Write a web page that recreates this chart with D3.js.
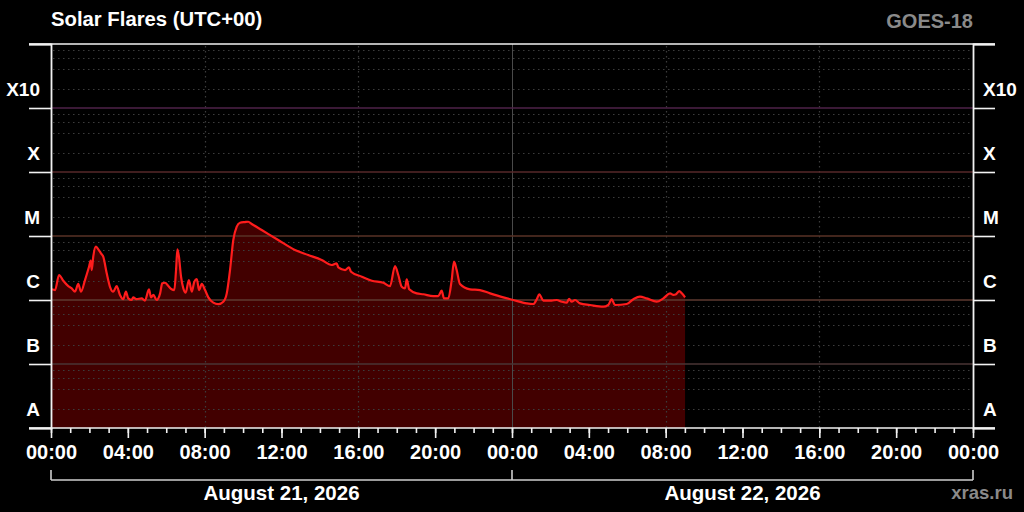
<!DOCTYPE html>
<html><head><meta charset="utf-8">
<script src="https://cdn.jsdelivr.net/npm/d3@7"></script>
<style>
html,body{margin:0;padding:0;background:#000;}
svg{display:block;font-family:"Liberation Sans",Arial,sans-serif;font-weight:bold;}
</style></head>
<body><svg id="c" width="1024" height="512"></svg>
<script>
// ---- data ----
const title = "Solar Flares (UTC+00)";
const satellite = "GOES-18";
const credit = "xras.ru";
const dayLabels = ["August 21, 2026", "August 22, 2026"];
const classLabels = ["A", "B", "C", "M", "X", "X10"];
const classBounds = [1e-8, 1e-7, 1e-6, 1e-5, 1e-4, 1e-3];
const classLineColors = ["#000", "#4a3434", "#5e3a30", "#583226", "#57282a", "#4e2248"];
// hours since 2026-08-21 00:00 UTC
const hours = [0.04,0.21,0.42,0.64,0.90,1.08,1.25,1.42,1.56,1.77,1.98,2.07,2.12,2.20,2.33,2.46,2.60,2.72,2.90,3.07,3.24,3.42,3.59,3.76,3.90,4.02,4.20,4.28,4.46,4.72,4.89,5.10,5.21,5.33,5.50,5.68,5.79,5.94,6.11,6.28,6.42,6.51,6.58,6.66,6.77,6.89,7.01,7.18,7.33,7.46,7.59,7.71,7.85,8.02,8.19,8.45,8.71,8.97,9.15,9.32,9.49,9.67,9.84,10.10,10.27,10.45,10.97,11.83,12.70,13.39,14.09,14.61,14.87,14.96,15.31,15.51,15.62,16.18,16.70,17.30,17.65,17.91,18.08,18.26,18.43,18.52,18.65,19.04,19.38,19.90,20.16,20.34,20.46,20.68,20.86,20.98,21.12,21.29,21.81,22.33,22.86,23.55,24.07,24.77,25.11,25.29,25.42,25.63,26.06,26.33,26.59,26.85,26.97,27.11,27.28,27.54,28.06,28.75,29.01,29.19,29.36,29.97,30.32,30.66,31.01,31.53,31.88,32.23,32.40,32.54,32.71,32.84,33.01];
// X-ray flux, W/m^2
const flux = [1.47e-6,1.43e-6,2.46e-6,2.00e-6,1.65e-6,1.52e-6,1.35e-6,1.78e-6,1.35e-6,2.05e-6,3.31e-6,4.11e-6,2.94e-6,4.75e-6,6.81e-6,6.19e-6,5.37e-6,4.75e-6,2.61e-6,1.61e-6,1.35e-6,1.65e-6,1.20e-6,1.03e-6,1.35e-6,1.06e-6,1.00e-6,1.10e-6,1.03e-6,1.06e-6,9.8e-7,1.47e-6,1.10e-6,1.20e-6,1.00e-6,1.27e-6,1.82e-6,1.86e-6,1.65e-6,1.47e-6,1.43e-6,2.94e-6,6.19e-6,4.75e-6,2.31e-6,1.52e-6,1.30e-6,2.05e-6,1.35e-6,1.93e-6,2.13e-6,1.43e-6,1.78e-6,1.43e-6,1.10e-6,9.1e-7,8.6e-7,9.4e-7,1.27e-6,2.94e-6,8.66e-6,1.40e-5,1.61e-5,1.65e-5,1.67e-5,1.54e-5,1.24e-5,8.66e-6,6.04e-6,5.05e-6,4.22e-6,3.52e-6,3.74e-6,3.24e-6,2.94e-6,3.24e-6,2.77e-6,2.31e-6,2.00e-6,1.86e-6,1.65e-6,3.40e-6,2.46e-6,1.61e-6,1.52e-6,2.10e-6,1.47e-6,1.27e-6,1.23e-6,1.15e-6,1.15e-6,1.40e-6,1.06e-6,1.06e-6,2.05e-6,3.97e-6,2.94e-6,1.78e-6,1.47e-6,1.43e-6,1.27e-6,1.10e-6,1.00e-6,8.87e-7,8.66e-7,1.03e-6,1.23e-6,9.8e-7,9.8e-7,1.00e-6,9.4e-7,9.1e-7,1.04e-6,9.4e-7,1.00e-6,8.87e-7,8.36e-7,7.86e-7,8.36e-7,1.03e-6,8.36e-7,8.66e-7,1.03e-6,1.13e-6,1.06e-6,9.4e-7,1.06e-6,1.27e-6,1.20e-6,1.23e-6,1.38e-6,1.27e-6,1.10e-6];

// ---- layout ----
const W = 1024, H = 512;
const L = 51, R = 973, T = 44, B = 428;
const t0 = Date.UTC(2026, 7, 21), t1 = Date.UTC(2026, 7, 23);
const data = hours.map((h, i) => ({t: new Date(t0 + h * 3600e3), f: flux[i]}));

const svg = d3.select("#c");
svg.append("rect").attr("width", W).attr("height", H).attr("fill", "#000");

const x = d3.scaleUtc().domain([new Date(t0), new Date(t1)]).range([L, R]);
const y = d3.scaleLog().domain([1e-8, 1e-2]).range([B, T]);

// fill
const area = d3.area().x(d => x(d.t)).y0(B).y1(d => y(d.f)).curve(d3.curveMonotoneX);
svg.append("path").datum(data).attr("d", area).attr("fill", "#420000");

// minor horizontal grid (2,4,6,8 per decade)
const minor = [];
classBounds.forEach(d => [2, 4, 6, 8].forEach(m => minor.push(d * m)));
svg.append("g").selectAll("line").data(minor).join("line")
  .attr("x1", L + 2).attr("x2", R).attr("y1", d => Math.round(y(d)) + 0.5).attr("y2", d => Math.round(y(d)) + 0.5)
  .attr("stroke", "#3c3c3c").attr("stroke-width", 1.2).attr("stroke-dasharray", "1.5,3.5");

// vertical dotted grid every 8 h, solid at day boundary
const vgrid = d3.utcHour.every(8).range(new Date(t0 + 1), new Date(t1));
svg.append("g").selectAll("line").data(vgrid.filter(d => d.getUTCHours() !== 0)).join("line")
  .attr("x1", d => Math.round(x(d)) + 0.5).attr("x2", d => Math.round(x(d)) + 0.5).attr("y1", T + 2).attr("y2", B)
  .attr("stroke", "#3c3c3c").attr("stroke-width", 1.2).attr("stroke-dasharray", "1.5,3.5");
svg.append("g").selectAll("line").data(vgrid.filter(d => d.getUTCHours() === 0)).join("line")
  .attr("x1", d => Math.round(x(d)) + 0.5).attr("x2", d => Math.round(x(d)) + 0.5).attr("y1", T).attr("y2", B)
  .attr("stroke", "#4a4a4a").attr("stroke-width", 1);

// class lines
svg.append("g").selectAll("line").data(classBounds.slice(1)).join("line")
  .attr("x1", L).attr("x2", R).attr("y1", d => y(d)).attr("y2", d => y(d))
  .attr("stroke", (d, i) => classLineColors[i + 1]).attr("stroke-width", 1.5);

// flux line
const line = d3.line().x(d => x(d.t)).y(d => y(d.f)).curve(d3.curveMonotoneX);
svg.append("path").datum(data).attr("d", line).attr("fill", "none")
  .attr("stroke", "#ff1c1c").attr("stroke-width", 2.2).attr("stroke-linejoin", "round");

// frame lines
const axisCol = "#f2f2f2";
svg.append("line").attr("x1", 29).attr("x2", 995).attr("y1", T).attr("y2", T).attr("stroke", axisCol).attr("stroke-width", 1.6);
svg.append("line").attr("x1", 29).attr("x2", 995).attr("y1", B).attr("y2", B).attr("stroke", axisCol).attr("stroke-width", 1.6);

// y axes (ticks only)
const decades = [1e-8, 1e-7, 1e-6, 1e-5, 1e-4, 1e-3, 1e-2];
const yl = svg.append("g").attr("transform", `translate(${L},0)`)
  .call(d3.axisLeft(y).tickValues(decades).tickSize(22).tickFormat(""));
const yr = svg.append("g").attr("transform", `translate(${R},0)`)
  .call(d3.axisRight(y).tickValues(decades).tickSize(22).tickFormat(""));
[yl, yr].forEach(g => {
  g.select(".domain").attr("stroke", axisCol).attr("stroke-width", 1.8);
  g.selectAll(".tick line").attr("stroke", axisCol).attr("stroke-width", 1.6);
});

// class labels
classLabels.forEach((lab, i) => {
  const yy = y(classBounds[i]) - 12;
  svg.append("text").attr("x", 40).attr("y", yy).attr("text-anchor", "end")
    .attr("fill", "#fff").attr("font-size", 19).text(lab);
  svg.append("text").attr("x", 983).attr("y", yy).attr("text-anchor", "start")
    .attr("fill", "#fff").attr("font-size", 19).text(lab);
});

// x axis
const xMinor = svg.append("g").attr("transform", `translate(0,${B})`)
  .call(d3.axisBottom(x).ticks(d3.utcHour.every(1)).tickSize(5).tickFormat(""));
const xMajor = svg.append("g").attr("transform", `translate(0,${B})`)
  .call(d3.axisBottom(x).ticks(d3.utcHour.every(4)).tickSize(10).tickPadding(8)
    .tickFormat(d3.utcFormat("%H:%M")));
[xMinor, xMajor].forEach(g => {
  g.select(".domain").remove();
  g.selectAll(".tick line").attr("stroke", axisCol).attr("stroke-width", 1.6);
});
xMajor.selectAll(".tick text").attr("fill", "#fff").attr("font-size", 20)
  .attr("font-family", "Liberation Sans, Arial, sans-serif").attr("font-weight", "bold")
  .attr("dy", null).attr("y", 31);

// date brackets
const days = d3.utcDay.range(new Date(t0), new Date(t1));
const br = svg.append("g");
br.append("line").attr("x1", x(new Date(t0))).attr("x2", x(new Date(t1))).attr("y1", 480).attr("y2", 480)
  .attr("stroke", "#cfcfcf").attr("stroke-width", 1.6);
br.selectAll("line.tk").data(days.concat([new Date(t1)])).join("line").attr("class", "tk")
  .attr("x1", d => x(d)).attr("x2", d => x(d)).attr("y1", 470).attr("y2", 480)
  .attr("stroke", "#cfcfcf").attr("stroke-width", 1.6);
br.selectAll("text").data(days).join("text")
  .attr("x", d => x(new Date(+d + 12 * 3600e3))).attr("y", 500).attr("text-anchor", "middle")
  .attr("fill", "#fff").attr("font-size", 20.5).text((d, i) => dayLabels[i]);

// titles
svg.append("text").attr("x", 51).attr("y", 26).attr("fill", "#fff").attr("font-size", 20.3).text(title);
svg.append("text").attr("x", 973).attr("y", 28).attr("text-anchor", "end").attr("fill", "#8a8a8a").attr("font-size", 20).text(satellite);
svg.append("text").attr("x", 1013).attr("y", 499).attr("text-anchor", "end").attr("fill", "#8a8a8a").attr("font-size", 18.5).text(credit);
</script></body></html>
